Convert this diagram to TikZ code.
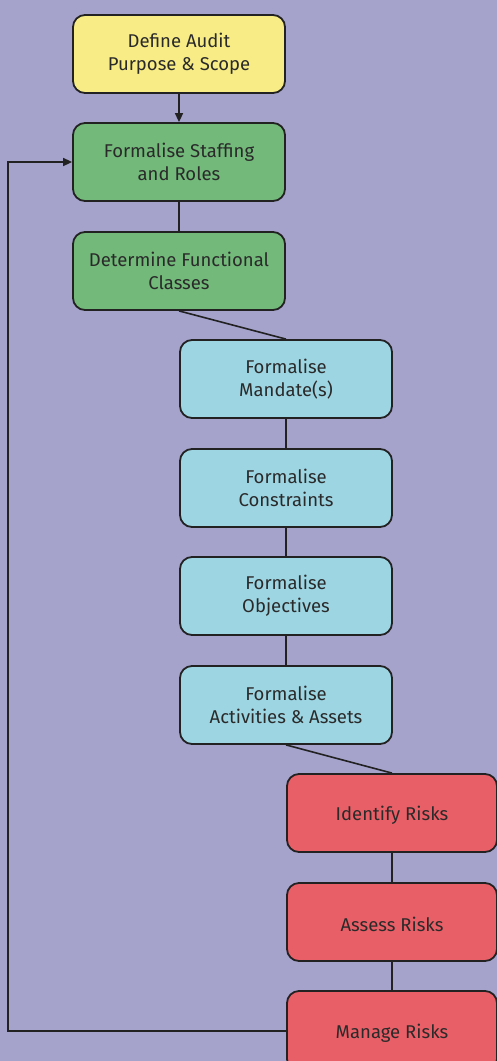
\documentclass[tikz,border=0pt]{standalone}
\usepackage{fontspec}
\setmainfont{Fira Sans}
\usetikzlibrary{arrows.meta}
\definecolor{bg}{HTML}{A5A2CC}
\definecolor{cyel}{HTML}{F7EC86}
\definecolor{cgrn}{HTML}{72B97A}
\definecolor{ccyn}{HTML}{9DD5E3}
\definecolor{cred}{HTML}{E95F67}
\definecolor{ink}{HTML}{222222}
\definecolor{txt}{HTML}{2A2A2A}
\begin{document}
\begin{tikzpicture}[x=1pt,y=-1pt,
  box/.style={draw=ink,line width=1.8pt,rounded corners=12pt,minimum width=212pt,minimum height=78pt,
    align=center,text=txt,font=\fontsize{18.5}{23}\selectfont,inner sep=0pt,
    execute at begin node={\rule{0pt}{19.7pt}}},
  conn/.style={draw=ink,line width=1.6pt},
  arr/.style={conn,-{Triangle[length=9pt,width=8pt]}}]
\useasboundingbox (0,0) rectangle (497,1061);
\clip (0,0) rectangle (497,1061);
\fill[bg] (0,0) rectangle (497,1061);
\node[box,fill=cyel] (a) at (179,54) {Define Audit\\Purpose \& Scope};
\node[box,fill=cgrn] (b) at (179,162) {Formalise Staffing\\and Roles};
\node[box,fill=cgrn] (c) at (179,271) {Determine Functional\\Classes};
\node[box,fill=ccyn] (d) at (286,379) {Formalise\\Mandate(s)};
\node[box,fill=ccyn] (e) at (286,488) {Formalise\\Constraints};
\node[box,fill=ccyn] (f) at (286,596) {Formalise\\Objectives};
\node[box,fill=ccyn] (g) at (286,705) {Formalise\\Activities \& Assets};
\node[box,fill=cred,minimum width=210pt] (h) at (392,813) {Identify Risks};
\node[box,fill=cred,minimum width=210pt] (i) at (392,922) {Assess Risks};
\node[box,fill=cred,minimum width=210pt,minimum height=80pt] (j) at (392,1031) {Manage Risks};
\coordinate (k) at (8,1031);
\coordinate (l) at (8,162);
\draw[arr] (a.south) -- (b.north);
\draw[conn] (b.south) -- (c.north);
\draw[conn] (c.south) -- (d.north);
\draw[conn] (d.south) -- (e.north);
\draw[conn] (e.south) -- (f.north);
\draw[conn] (f.south) -- (g.north);
\draw[conn] (g.south) -- (h.north);
\draw[conn] (h.south) -- (i.north);
\draw[conn] (i.south) -- (j.north);
\draw[arr] (j.west) -- (k) -- (l) -- (b.west);
\end{tikzpicture}
\end{document}
